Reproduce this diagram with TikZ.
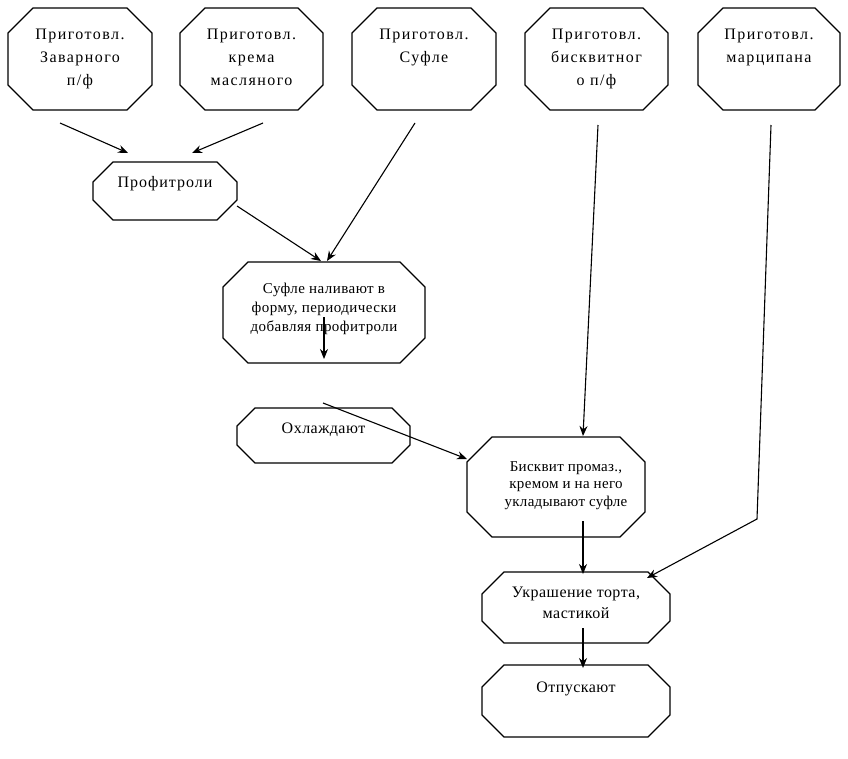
\documentclass[tikz,border=0pt]{standalone}
\usepackage{fontspec}
\setmainfont{Liberation Serif}
\usetikzlibrary{arrows.meta}
\newcommand{\octo}[2]{% name, cut
  \draw[octline] ([xshift=#2]#1.north west) -- ([xshift=-#2]#1.north east) -- ([yshift=-#2]#1.north east)
    -- ([yshift=#2]#1.south east) -- ([xshift=-#2]#1.south east) -- ([xshift=#2]#1.south west)
    -- ([yshift=#2]#1.south west) -- ([yshift=-#2]#1.north west) -- cycle;}
\tikzset{
  boxnode/.style={inner sep=0pt, outer sep=0pt},
  octline/.style={line width=1.1pt, line join=miter},
  txt/.style={align=center, inner sep=0pt, anchor=north},
  conn/.style={line width=1.1pt, -{Stealth[length=10pt,width=8pt]}},
}
\begin{document}
\begin{tikzpicture}[x=1pt,y=-1pt]
\useasboundingbox[fill=white] (0,0) rectangle (848,758);
% top boxes
\node[boxnode, minimum width=144pt, minimum height=102pt] (n1) at (80,59) {};
\node[boxnode, minimum width=143pt, minimum height=102pt] (n2) at (251.5,59) {};
\node[boxnode, minimum width=144pt, minimum height=102pt] (n3) at (424,59) {};
\node[boxnode, minimum width=143pt, minimum height=102pt] (n4) at (596.5,59) {};
\node[boxnode, minimum width=142pt, minimum height=102pt] (n5) at (769,59) {};
\foreach \n in {n1,n2,n3,n4,n5}{\octo{\n}{25pt}}
\tikzset{topfont/.style={font=\fontsize{16}{23}\selectfont\addfontfeatures{LetterSpace=9}}}
\node[txt, topfont] (t1) at (80,29) {Приготовл.\\Заварного\\п/ф};
\node[txt, topfont] (t2) at (251.5,29) {Приготовл.\\крема\\масляного};
\node[txt, topfont] (t3) at (424,29) {Приготовл.\\Суфле};
\node[txt, topfont] (t4) at (596.5,29) {Приготовл.\\бисквитног\\о п/ф};
\node[txt, topfont] (t5) at (769,29) {Приготовл.\\марципана};
% middle boxes
\node[boxnode, minimum width=144pt, minimum height=58pt] (prof) at (165,191) {};
\octo{prof}{20pt}
\node[txt, font=\fontsize{16}{21}\selectfont\addfontfeatures{LetterSpace=6}] (tprof) at (165,176) {Профитроли};
\node[boxnode, minimum width=202pt, minimum height=101pt] (suf) at (324,312.5) {};
\octo{suf}{25pt}
\node[txt, font=\fontsize{15}{19}\selectfont\addfontfeatures{LetterSpace=3}] (tsuf) at (324,283) {Суфле наливают в\\форму, периодически\\добавляя профитроли};
\node[boxnode, minimum width=173pt, minimum height=55pt] (ohl) at (323.5,435.5) {};
\octo{ohl}{18pt}
\node[txt, font=\fontsize{16}{21}\selectfont\addfontfeatures{LetterSpace=3}] (tohl) at (323.5,423) {Охлаждают};
\node[boxnode, minimum width=178pt, minimum height=100pt] (bis) at (556,487) {};
\octo{bis}{25pt}
\node[txt, font=\fontsize{15}{17.5}\selectfont\addfontfeatures{LetterSpace=2}] (tbis) at (566,461) {Бисквит промаз.,\\кремом и на него\\укладывают суфле};
\node[boxnode, minimum width=188pt, minimum height=71pt] (ukr) at (576,607.5) {};
\octo{ukr}{22pt}
\node[txt, font=\fontsize{16}{21}\selectfont\addfontfeatures{LetterSpace=3}] (tukr) at (576,587) {Украшение торта,\\мастикой};
\node[boxnode, minimum width=188pt, minimum height=72pt] (otp) at (576,701) {};
\octo{otp}{22pt}
\node[txt, font=\fontsize{16}{21}\selectfont\addfontfeatures{LetterSpace=3}] (totp) at (576,682) {Отпускают};
% connector points
\coordinate (a1s) at (60,123);
\coordinate (a1e) at (128,153);
\coordinate (a2s) at (263,123);
\coordinate (a2e) at (192,153);
\coordinate (a3s) at (415,123);
\coordinate (a3e) at (327,261);
\coordinate (a4s) at (237,206);
\coordinate (a4e) at (321,261);
\coordinate (a5s) at (324,317);
\coordinate (a5e) at (324,359);
\coordinate (a6s) at (323,403);
\coordinate (a6e) at (467,459);
\coordinate (a7s) at (598,125);
\coordinate (a7e) at (583,436);
\coordinate (a8s) at (583,521);
\coordinate (a8e) at (583,574);
\coordinate (a9s) at (771,125);
\coordinate (a9m) at (757,519);
\coordinate (a9e) at (647,578);
\coordinate (a10s) at (583,628);
\coordinate (a10e) at (583,668);
\draw[conn] (a1s) -- (a1e);
\draw[conn] (a2s) -- (a2e);
\draw[conn] (a3s) -- (a3e);
\draw[conn] (a4s) -- (a4e);
\draw[conn] (a5s) -- (a5e);
\draw[conn] (a6s) -- (a6e);
\draw[conn] (a7s) -- (a7e);
\draw[conn] (a8s) -- (a8e);
\draw[conn] (a9s) -- (a9m) -- (a9e);
\draw[conn] (a10s) -- (a10e);
\end{tikzpicture}
\end{document}
